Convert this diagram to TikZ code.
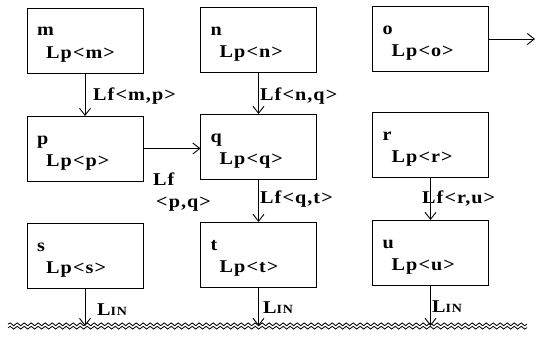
\documentclass[tikz,border=0pt]{standalone}
\usepackage{fontspec}
\setmainfont{Liberation Serif}[FakeStretch=1.12,LetterSpace=6]
\usetikzlibrary{arrows.meta,decorations.pathmorphing}

\begin{document}
\begin{tikzpicture}[x=1pt,y=-1pt]
            % Base settings
            \tikzset{
              mybox/.style={draw, line width=0.8pt, minimum width=116pt, minimum height=65pt, inner sep=0pt, outer sep=0pt},
              mytext/.style={anchor=base west, inner sep=0pt, font=\fontsize{18}{20}\selectfont\bfseries},
              myarrow/.style={line width=0.8pt, -{Straight Barb[length=7pt,width=11pt,line width=0.9pt]}},
              mywave/.style={line width=0.8pt, decorate, decoration={snake, segment length=7pt, amplitude=1.4pt}}
            }
            \useasboundingbox (0,0) rectangle (537,337);

            % --- Boxes ---
            \foreach \id/\cx/\cy in {m/85/40.5, n/258.5/40, o/430.5/39,
                                     p/85/148.5, q/258.5/146.5, r/430.5/144.5,
                                     s/85/255.5, t/258.5/254.5, u/430.5/252.5}{
              \node[mybox] (\id) at (\cx,\cy) {};
              \node[mytext] (\id-name) at ([shift={(10pt,-28pt)}]\id.north west) {\id};
              \node[mytext] (\id-lp) at ([shift={(19pt,-50pt)}]\id.north west) {Lp<\id>};
            }

            % --- Ground (wavy lines) ---
            \coordinate (ground) at (8,326);
            \coordinate (groundend) at (527,326);
            \draw[mywave] ([yshift=-1.7pt]ground) -- ([yshift=-1.7pt]groundend);
            \draw[mywave] ([yshift=1.7pt]ground) -- ([yshift=1.7pt]groundend);

            % --- Connectors ---
            \coordinate (oend) at (535,39);
            \draw[myarrow] (m) -- (p);
            \draw[myarrow] (n) -- (q);
            \draw[myarrow] (q) -- (t);
            \draw[myarrow] (r) -- (u);
            \draw[myarrow] (p.east) -- (p.east -| q.west);
            \draw[myarrow] (o) -- (oend);
            \foreach \id in {s,t,u}
              \draw[myarrow] (\id) -- (\id |- ground);

            % --- Labels ---
            \node[mytext] (lf-mp) at (93,100) {Lf<m,p>};
            \node[mytext] (lf-nq) at (260,100) {Lf<n,q>};
            \node[mytext] (lf-qt) at (260,203) {Lf<q,t>};
            \node[mytext] (lf-ru) at (422,203) {Lf<r,u>};
            \node[mytext] (lf-pq) at (153,185) {Lf};
            \node[mytext] (pq) at (156,207) {<p,q>};
            \node[mytext] (lin-s) at (97,315) {L{\fontsize{12.5}{12}\selectfont IN}};
            \node[mytext] (lin-t) at (263,313) {L{\fontsize{12.5}{12}\selectfont IN}};
            \node[mytext] (lin-u) at (432,312) {L{\fontsize{12.5}{12}\selectfont IN}};

            \end{tikzpicture}
\end{document}
